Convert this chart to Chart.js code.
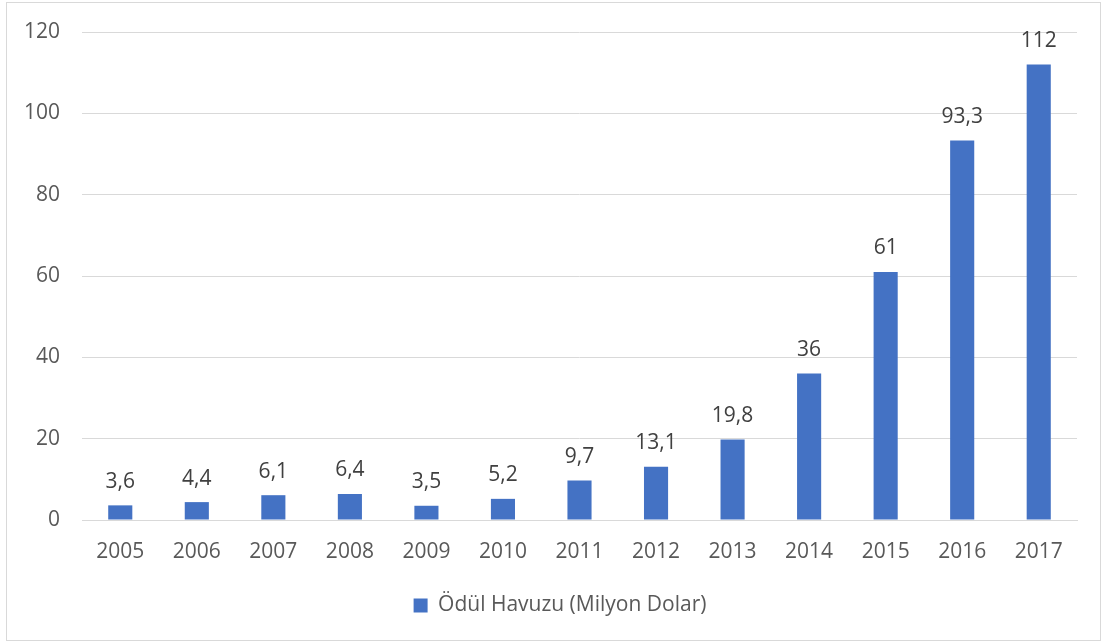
<!DOCTYPE html>
<html>
<head>
<meta charset="utf-8">
<script src="https://cdn.jsdelivr.net/npm/chart.js@4.4.0/dist/chart.umd.min.js"></script>
<style>
    html, body { margin: 0; padding: 0; background: #ffffff; }
    #frame {
        position: absolute;
        left: 6px;
        top: 2px;
        width: 1093px;
        height: 637px;
        border: 1px solid #d9d9d9;
    }
</style>
</head>
<body>
<div id="frame"><canvas id="prizeChart"></canvas></div>
<script>
// Chart data
const years = ['2005', '2006', '2007', '2008', '2009', '2010', '2011', '2012', '2013', '2014', '2015', '2016', '2017'];
const prizePool = [3.6, 4.4, 6.1, 6.4, 3.5, 5.2, 9.7, 13.1, 19.8, 36, 61, 93.3, 112];
const seriesName = 'Ödül Havuzu (Milyon Dolar)';
const yTicks = [0, 20, 40, 60, 80, 100, 120];

const textColor = '#595959';
const barColor = '#4472C4';
const gridColor = '#d9d9d9';
const fontFamily = '"Open Sans", Calibri, sans-serif';

// Draw value labels above bars, with comma decimals
const valueLabels = {
    id: 'valueLabels',
    afterDatasetsDraw(chart) {
        const ctx = chart.ctx;
        const meta = chart.getDatasetMeta(0);
        ctx.save();
        ctx.font = '21px ' + fontFamily;
        ctx.fillStyle = '#404040';
        ctx.textAlign = 'center';
        ctx.textBaseline = 'bottom';
        meta.data.forEach((bar, i) => {
            const text = String(prizePool[i]).replace('.', ',');
            ctx.fillText(text, bar.x, bar.y - 13);
        });
        ctx.restore();
    }
};

const ctx = document.getElementById('prizeChart').getContext('2d');
new Chart(ctx, {
    type: 'bar',
    data: {
        labels: years,
        datasets: [{
            label: seriesName,
            data: prizePool,
            backgroundColor: barColor,
            borderWidth: 0,
            categoryPercentage: 1,
            barPercentage: 0.315
        }]
    },
    options: {
        responsive: true,
        maintainAspectRatio: false,
        animation: false,
        layout: {
            padding: { left: 36, right: 23, top: 29, bottom: 14 }
        },
        scales: {
            x: {
                grid: { display: false, drawTicks: false },
                border: { color: gridColor, width: 1 },
                ticks: {
                    color: textColor,
                    font: { family: fontFamily, size: 21 },
                    padding: 19,
                    maxRotation: 0
                },
                afterFit(scale) { scale.height = 67; }
            },
            y: {
                min: 0,
                max: 120,
                afterBuildTicks(scale) {
                    scale.ticks = yTicks.map(v => ({ value: v }));
                },
                grid: { color: gridColor, lineWidth: 1, drawTicks: false },
                border: { display: false },
                ticks: {
                    color: textColor,
                    font: { family: fontFamily, size: 21 },
                    padding: 22
                },
                afterFit(scale) {
                    scale.width = 39;
                    scale.paddingTop = 0;
                    scale.paddingBottom = 0;
                    // labels reach into the left padding, so don't clip them
                    scale._computeLabelArea = () => undefined;
                }
            }
        },
        plugins: {
            legend: {
                position: 'bottom',
                labels: {
                    color: textColor,
                    font: { family: fontFamily, size: 21 },
                    boxWidth: 14,
                    boxHeight: 14,
                    padding: 8
                }
            },
            tooltip: { enabled: false }
        }
    },
    plugins: [valueLabels]
});
</script>
</body>
</html>
